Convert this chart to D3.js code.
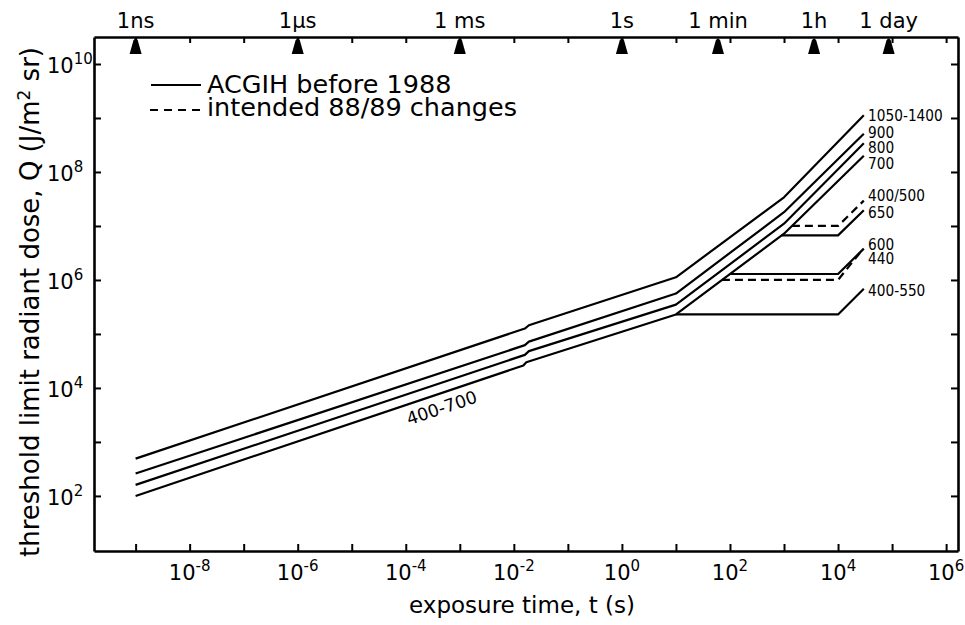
<!DOCTYPE html>
<html>
<head>
<meta charset="utf-8">
<script src="https://cdn.jsdelivr.net/npm/d3@7"></script>
<style>
  body { margin: 0; background: #fff; }
  svg { display: block; }
  text { font-family: "DejaVu Sans", sans-serif; fill: #000; }
</style>
</head>
<body>
<svg id="chart" width="965" height="625"></svg>
<script>
// ---------------- DATA ----------------
// tick exponents (powers of ten)
const xTickExps = [-9, -8, -7, -6, -5, -4, -3, -2, -1, 0, 1, 2, 3, 4, 5, 6];
const xLabelExps = [-8, -6, -4, -2, 0, 2, 4, 6];
const yTickExps = [2, 3, 4, 5, 6, 7, 8, 9, 10];
const yLabelExps = [2, 4, 6, 8, 10];

// top time markers (seconds) and their labels
const markerTimes = [1e-9, 1e-6, 1e-3, 1, 60, 3600, 86400];
const markerLabels = ["1ns", "1\u00b5s", "1 ms", "1s", "1 min", "1h", "1 day"];

// legend entries
const legendLabels = ["ACGIH before 1988", "intended 88/89 changes"];

// series: [exposure time t (s), threshold dose Q (J/m² sr)]
const s1050_1400 = [[1e-9, 490], [0.016, 1.26e5], [0.019, 1.45e5], [10, 1.12e6], [1000, 3.4e7], [3e4, 1.12e9]];
const s900       = [[1e-9, 260], [0.016, 6.2e4], [0.019, 7.2e4], [10, 5.6e5], [1000, 1.8e7], [3e4, 5.1e8]];
const s800       = [[1e-9, 160], [0.016, 4.1e4], [0.019, 4.8e4], [10, 3.5e5], [1000, 1.1e7], [3e4, 3.4e8]];
const s700       = [[1e-9, 100], [0.015, 2.6e4], [0.017, 3.0e4], [10, 2.3e5], [1000, 7.2e6], [3e4, 2.0e8]];
const s400_550   = [[10, 2.3e5], [1e4, 2.3e5], [3e4, 6.9e5]];
const s600       = [[100, 1.29e6], [1e4, 1.29e6], [3e4, 3.8e6]];
const s650       = [[900, 6.7e6], [1e4, 6.7e6], [3e4, 1.95e7]];
const s440_new   = [[71, 1.0e6], [1e4, 1.0e6], [2.75e4, 3.5e6]];
const s400_500_new = [[1400, 1.0e7], [1e4, 1.0e7], [3e4, 2.95e7]];

const solidSeries = [s1050_1400, s900, s800, s700, s400_550, s600, s650];
const dashedSeries = [s440_new, s400_500_new];

// wavelength band labels (nm) at the right end, with the dose level they sit at
const bandLabels = ["1050-1400", "900", "800", "700", "400/500", "650", "600", "440", "400-550"];
const bandLabelQ = [1.12e9, 5.6e8, 2.9e8, 1.45e8, 3.7e7, 1.8e7, 4.7e6, 2.55e6, 6.5e5];
const bandLabelT = 3.6e4;
const broadLabel = "400-700";
const broadLabelAt = [4.6e-4, 4.3e3];

// ---------------- CHART ----------------
const svg = d3.select("#chart");
const L = 94, R = 958, T = 37, B = 551;

const x = d3.scaleLog().domain([Math.pow(10, -9.77), Math.pow(10, 6.22)]).range([L, R]);
const y = d3.scaleLog().domain([Math.pow(10, 0.98), Math.pow(10, 10.5)]).range([B, T]);

const pw = v => Math.pow(10, v);

function styleAxis(g) {
  g.select(".domain").attr("stroke", "#000").attr("stroke-width", 2.6);
  g.selectAll(".tick line").attr("stroke", "#000").attr("stroke-width", 2);
  g.selectAll(".tick text").remove();
}

svg.append("g").attr("transform", `translate(0,${B})`)
  .call(d3.axisBottom(x).tickValues(xTickExps.map(pw)).tickSizeInner(-7).tickSizeOuter(0).tickFormat(""))
  .call(styleAxis);
svg.append("g").attr("transform", `translate(0,${T})`)
  .call(d3.axisTop(x).tickValues(xTickExps.map(pw)).tickSizeInner(-6).tickSizeOuter(0).tickFormat(""))
  .call(styleAxis);
svg.append("g").attr("transform", `translate(${L},0)`)
  .call(d3.axisLeft(y).tickValues(yTickExps.map(pw)).tickSizeInner(-7).tickSizeOuter(0).tickFormat(""))
  .call(styleAxis);
svg.append("g").attr("transform", `translate(${R},0)`)
  .call(d3.axisRight(y).tickValues(yTickExps.map(pw)).tickSizeInner(-7).tickSizeOuter(0).tickFormat(""))
  .call(styleAxis);

// bottom tick labels
xLabelExps.forEach(e => {
  const t = svg.append("text").attr("x", x(pw(e))).attr("y", 580)
    .attr("text-anchor", "middle").attr("font-size", 21);
  t.append("tspan").text("10");
  t.append("tspan").attr("dy", -9).attr("font-size", 15).text(String(e));
});
// left tick labels
yLabelExps.forEach(e => {
  const t = svg.append("text").attr("x", 47).attr("y", y(pw(e)) + 9)
    .attr("font-size", 21);
  t.append("tspan").text("10");
  t.append("tspan").attr("dy", -9).attr("font-size", 15).text(String(e));
});

// axis titles
svg.append("text").attr("x", 522).attr("y", 613).attr("text-anchor", "middle")
  .attr("font-size", 23).text("exposure time, t (s)");
const yt = svg.append("text").attr("transform", `translate(39,302) rotate(-90)`)
  .attr("text-anchor", "middle").attr("font-size", 26);
yt.append("tspan").text("threshold limit radiant dose, Q (J/m");
yt.append("tspan").attr("dy", -9).attr("font-size", 17).text("2");
yt.append("tspan").attr("dy", 9).text(" sr)");

// top markers
markerTimes.forEach((m, i) => {
  const cx = x(m);
  svg.append("path")
    .attr("d", `M${cx - 6},54 L${cx - 2.2},40.5 Q${cx},36.5 ${cx + 2.2},40.5 L${cx + 6},54 Z`)
    .attr("fill", "#000");
  svg.append("text").attr("x", cx).attr("y", 28).attr("text-anchor", "middle")
    .attr("font-size", 21).text(markerLabels[i]);
});

// data lines
const line = d3.line().x(d => x(d[0])).y(d => y(d[1]));
solidSeries.forEach(s => {
  svg.append("path").attr("d", line(s)).attr("fill", "none")
    .attr("stroke", "#000").attr("stroke-width", 2.2).attr("stroke-linejoin", "round");
});
dashedSeries.forEach(s => {
  svg.append("path").attr("d", line(s)).attr("fill", "none")
    .attr("stroke", "#000").attr("stroke-width", 2.2).attr("stroke-dasharray", "8,5");
});

// band labels
bandLabels.forEach((lab, i) => {
  svg.append("text")
    .attr("transform", `translate(${x(bandLabelT)},${y(bandLabelQ[i])}) scale(0.83,1)`)
    .attr("dy", "0.36em").attr("font-size", 16.5).text(lab);
});
{
  const p1 = [x(s700[0][0]), y(s700[0][1])], p2 = [x(s700[1][0]), y(s700[1][1])];
  const ang = Math.atan2(p2[1] - p1[1], p2[0] - p1[0]) * 180 / Math.PI;
  svg.append("text")
    .attr("transform", `translate(${x(broadLabelAt[0])},${y(broadLabelAt[1])}) rotate(${ang})`)
    .attr("text-anchor", "middle").attr("dy", "0.36em").attr("font-size", 17.5).text(broadLabel);
}

// legend
svg.append("line").attr("x1", 151).attr("x2", 201).attr("y1", 85).attr("y2", 85)
  .attr("stroke", "#000").attr("stroke-width", 2.2);
svg.append("text").attr("x", 207).attr("y", 93).attr("font-size", 25.5).text(legendLabels[0]);
svg.append("line").attr("x1", 150).attr("x2", 203).attr("y1", 110).attr("y2", 110)
  .attr("stroke", "#000").attr("stroke-width", 2.2).attr("stroke-dasharray", "8,6");
svg.append("text").attr("x", 207).attr("y", 116).attr("font-size", 25.5).text(legendLabels[1]);
</script>
</body>
</html>
